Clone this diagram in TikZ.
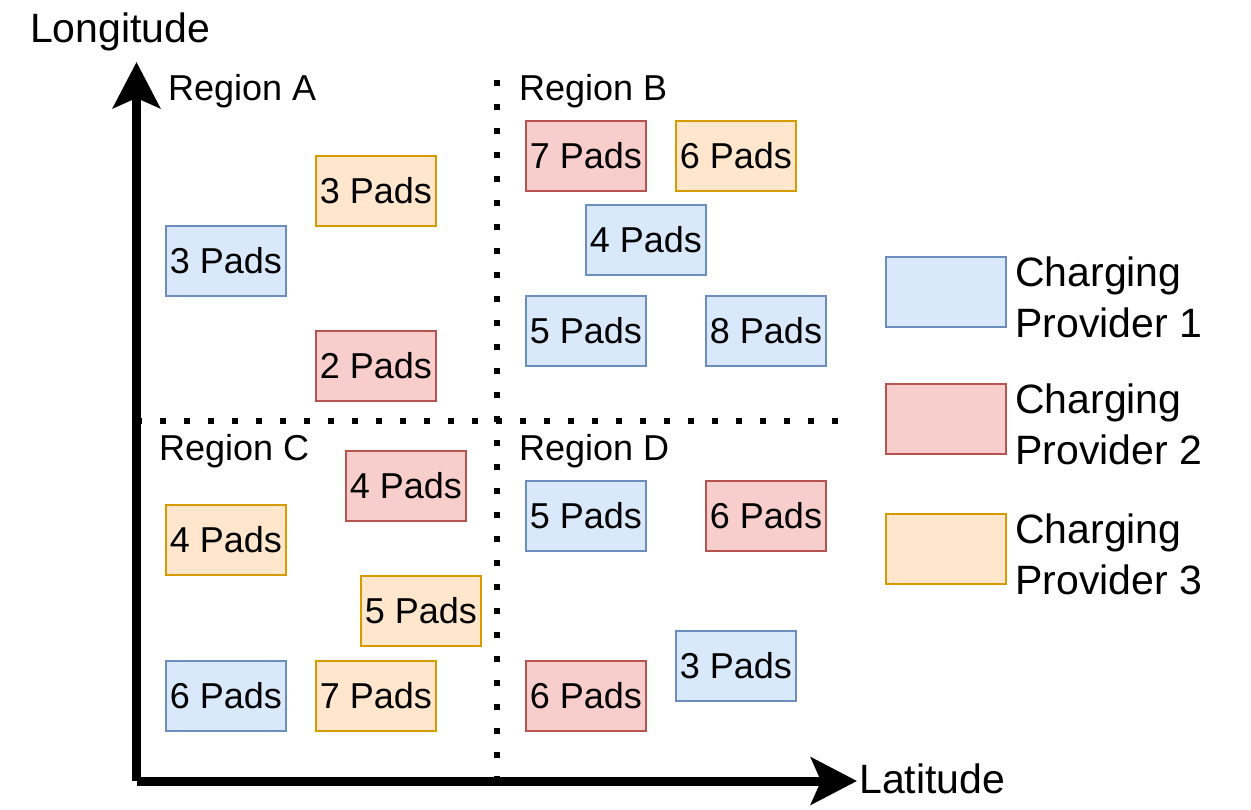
\documentclass[tikz,border=0pt]{standalone}
\usepackage{fontspec}
\setmainfont{Liberation Sans}
\usepackage{xcolor}
\usepackage{tikz}
\usetikzlibrary{arrows.meta}
\definecolor{blueFill}{HTML}{DAE8FC}
\definecolor{blueLine}{HTML}{6C8EBF}
\definecolor{redFill}{HTML}{F8CECC}
\definecolor{redLine}{HTML}{B85450}
\definecolor{orangeFill}{HTML}{FFE6CC}
\definecolor{orangeLine}{HTML}{D79B00}

\begin{document}
\begin{tikzpicture}[x=1pt, y=-1pt,
    pad/.style={draw, line width=2.5pt, minimum width=120pt, minimum height=70pt, inner sep=0pt,
        font=\fontsize{36}{43}\selectfont},
    prov1/.style={pad, draw=blueLine, fill=blueFill},
    prov2/.style={pad, draw=redLine, fill=redFill},
    prov3/.style={pad, draw=orangeLine, fill=orangeFill},
    region/.style={anchor=west, inner sep=0pt, font=\fontsize{36}{43}\selectfont},
    legendtext/.style={anchor=west, align=left, inner sep=0pt, font=\fontsize{41}{51}\selectfont},
    axis/.style={line width=9pt, -{Stealth[length=46pt, width=47pt, inset=10pt]}},
    divider/.style={line width=6pt, dash pattern=on 6pt off 18pt}]
    \useasboundingbox (0,0) rectangle (1251,810);

    % region dividers
    \coordinate (vtop) at (496.5,80);
    \coordinate (vbot) at (496.5,781);
    \coordinate (hleft) at (136,421);
    \coordinate (hright) at (842,421);
    \draw[divider] (vtop) -- (vbot);
    \draw[divider] (hleft) -- (hright);

    % axes
    \coordinate (origin) at (136.5,781);
    \coordinate (ytip) at (136.5,62);
    \coordinate (xtip) at (857,781);
    \draw[axis] (origin) -- (ytip);
    \draw[axis] (origin) -- (xtip);
    \node[legendtext] (lon) at (30,32) {Longitude};
    \node[legendtext] (lat) at (859,779) {Latitude};

    \node[region] (regA) at (168,91) {Region A};
    \node[region] (regB) at (519,91) {Region B};
    \node[region] (regC) at (159,451) {Region C};
    \node[region] (regD) at (519,451) {Region D};

    % region A
    \node[prov3] (a1) at (376,191) {3 Pads};
    \node[prov1] (a2) at (226,261) {3 Pads};
    \node[prov2] (a3) at (376,366) {2 Pads};
    % region B
    \node[prov2] (b1) at (586,156) {7 Pads};
    \node[prov3] (b2) at (736,156) {6 Pads};
    \node[prov1] (b3) at (646,240) {4 Pads};
    \node[prov1] (b4) at (586,331) {5 Pads};
    \node[prov1] (b5) at (766,331) {8 Pads};
    % region C
    \node[prov2] (c1) at (406,486) {4 Pads};
    \node[prov3] (c2) at (226,540) {4 Pads};
    \node[prov3] (c3) at (421,611) {5 Pads};
    \node[prov1] (c4) at (226,696) {6 Pads};
    \node[prov3] (c5) at (376,696) {7 Pads};
    % region D
    \node[prov1] (d1) at (586,516) {5 Pads};
    \node[prov2] (d2) at (766,516) {6 Pads};
    \node[prov1] (d3) at (736,666) {3 Pads};
    \node[prov2] (d4) at (586,696) {6 Pads};

    % legend
    \node[prov1] (key1) at (946,292) {};
    \node[prov2] (key2) at (946,419) {};
    \node[prov3] (key3) at (946,549) {};
    \node[legendtext] (txt1) at (1015,297) {Charging\\Provider 1};
    \node[legendtext] (txt2) at (1015,424) {Charging\\Provider 2};
    \node[legendtext] (txt3) at (1015,554) {Charging\\Provider 3};
\end{tikzpicture}
\end{document}
